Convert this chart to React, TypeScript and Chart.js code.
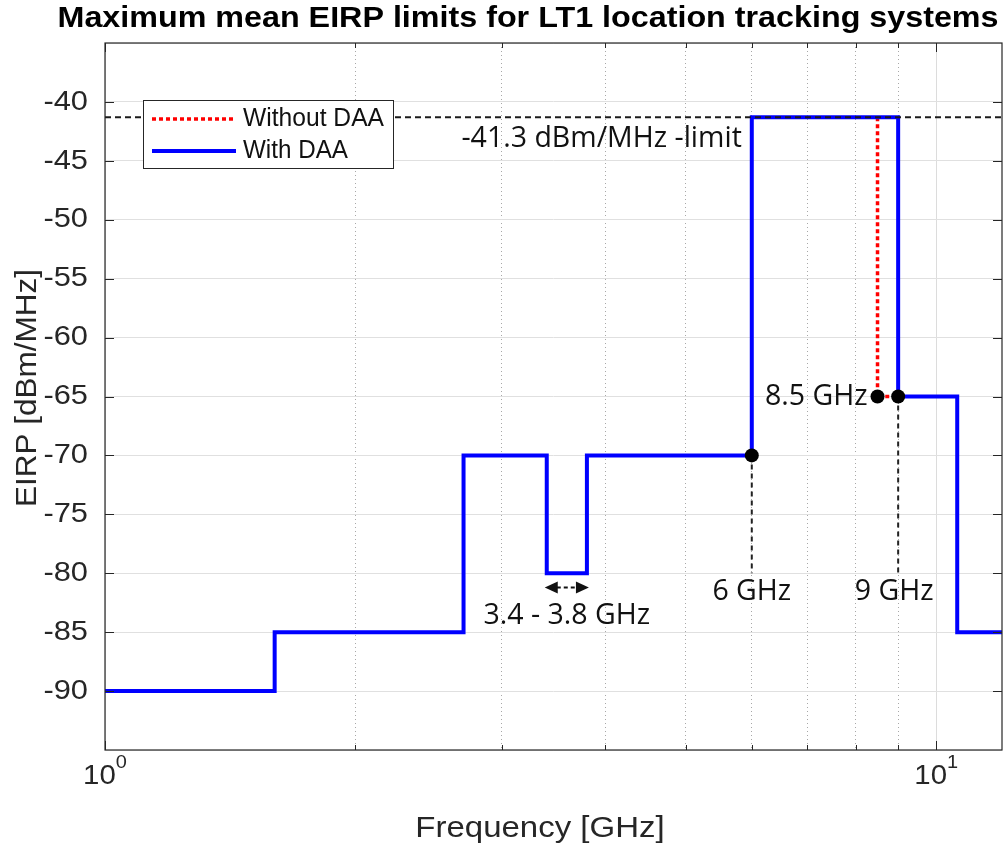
import React, { useEffect, useRef } from 'react';
import { Chart, registerables } from 'chart.js';

Chart.register(...registerables);

// ---- data ----
const freqWithDAA = [1, 1.6, 2.7, 3.4, 3.8, 6, 9, 10.6, 12];
const eirpWithDAA = [-90, -85, -70, -80, -70, -41.3, -65, -85, -85];
const freqWithoutDAA = [8.5, 8.5, 9];
const eirpWithoutDAA = [-41.3, -65, -65];
const limitFreq = [1, 12];
const limitEirp = [-41.3, -41.3];
const markerFreq = [6, 8.5, 9];
const markerEirp = [-70, -65, -65];
const guide6Freq = [6, 6];
const guide6Eirp = [-70, -80];
const guide9Freq = [9, 9];
const guide9Eirp = [-65, -80];
const bandEdges = [3.4, 3.8];
const bandArrowLevel = -81.2;
const yTickValues = [-90, -85, -80, -75, -70, -65, -60, -55, -50, -45, -40];
const xTickValues = [1, 2, 3, 4, 5, 6, 7, 8, 9, 10];
const xMajorValues = [1, 10];
const xMajorExponents = ['0', '1'];
const seriesNames = ['Without DAA', 'With DAA'];
const titleText = 'Maximum mean EIRP limits for LT1 location tracking systems';
const xTitle = 'Frequency [GHz]';
const yTitle = 'EIRP [dBm/MHz]';
const limitLabel = '-41.3 dBm/MHz -limit';
const label6 = '6 GHz';
const label85 = '8.5 GHz';
const label9 = '9 GHz';
const bandLabel = '3.4 - 3.8 GHz';

const zip = (xs: number[], ys: number[]) => xs.map((x, i) => ({ x, y: ys[i] }));

const HELV = '"Liberation Sans", Arial, sans-serif';
const CALI = '"Open Sans", "Noto Sans", sans-serif';
const AXIS_COLOR = '#262626';

function drawText(
  ctx: CanvasRenderingContext2D,
  s: string,
  x: number,
  y: number,
  font: string,
  align: CanvasTextAlign,
  color: string,
  sx = 1,
  targetWidth?: number
) {
  ctx.save();
  ctx.font = font;
  ctx.fillStyle = color;
  ctx.textBaseline = 'middle';
  let scaleX = sx;
  if (targetWidth) {
    const w = ctx.measureText(s).width;
    scaleX = targetWidth / w;
  }
  ctx.translate(x, y);
  ctx.scale(scaleX, 1);
  ctx.textAlign = align;
  ctx.fillText(s, 0, 0);
  ctx.restore();
}

const decorPlugin = {
  id: 'decor',
  afterDraw(chart: any) {
    const ctx: CanvasRenderingContext2D = chart.ctx;
    const xs = chart.scales.x;
    const ys = chart.scales.y;
    const { left, right, top, bottom } = chart.chartArea;

    // axes box
    ctx.save();
    ctx.strokeStyle = AXIS_COLOR;
    ctx.lineWidth = 1.2;
    ctx.strokeRect(left, top, right - left, bottom - top);

    // tick marks
    ctx.lineWidth = 1;
    ctx.beginPath();
    yTickValues.forEach((v) => {
      const py = Math.round(ys.getPixelForValue(v)) + 0.5;
      ctx.moveTo(left, py);
      ctx.lineTo(left + 9, py);
      ctx.moveTo(right, py);
      ctx.lineTo(right - 9, py);
    });
    xTickValues.forEach((v) => {
      const px = Math.round(xs.getPixelForValue(v)) + 0.5;
      const len = xMajorValues.includes(v) ? 9 : 5;
      ctx.moveTo(px, bottom);
      ctx.lineTo(px, bottom - len);
      ctx.moveTo(px, top);
      ctx.lineTo(px, top + len);
    });
    ctx.stroke();
    ctx.restore();

    // y tick labels
    yTickValues.forEach((v) => {
      drawText(ctx, String(v), left - 17, ys.getPixelForValue(v), `28px ${HELV}`, 'right', AXIS_COLOR, 1.1);
    });

    // x tick labels 10^n
    xMajorValues.forEach((v, i) => {
      const px = xs.getPixelForValue(v);
      ctx.save();
      ctx.font = `28px ${HELV}`;
      const wBase = ctx.measureText('10').width * 1.05;
      ctx.font = `19px ${HELV}`;
      const wExp = ctx.measureText(xMajorExponents[i]).width * 1.05;
      ctx.restore();
      const start = px - (wBase + wExp) / 2;
      drawText(ctx, '10', start, 776, `28px ${HELV}`, 'left', AXIS_COLOR, 1.05);
      drawText(ctx, xMajorExponents[i], start + wBase, 763, `19px ${HELV}`, 'left', AXIS_COLOR, 1.05);
    });

    // axis titles
    drawText(ctx, xTitle, 540, 829, `30px ${HELV}`, 'center', AXIS_COLOR, 1.1);
    ctx.save();
    ctx.translate(28, 388);
    ctx.rotate(-Math.PI / 2);
    drawText(ctx, yTitle, 0, 0, `30px ${HELV}`, 'center', AXIS_COLOR, 1.05);
    ctx.restore();

    // title
    drawText(ctx, titleText, 528, 19, `bold 30px ${HELV}`, 'center', '#000', 1, 941);

    // annotations
    const x6 = xs.getPixelForValue(6);
    const x85 = xs.getPixelForValue(8.5);
    const x9 = xs.getPixelForValue(9);
    const AF = `28.5px ${CALI}`;
    drawText(ctx, limitLabel, x6 - 10, ys.getPixelForValue(-41.3) + 22, AF, 'right', '#111');
    drawText(ctx, label85, x85 - 10, ys.getPixelForValue(-65), AF, 'right', '#111');
    drawText(ctx, label6, x6, 592, AF, 'center', '#111');
    drawText(ctx, label9, x9 - 4, 592, AF, 'center', '#111');
    const xa = xs.getPixelForValue(bandEdges[0]);
    const xb = xs.getPixelForValue(bandEdges[1]);
    drawText(ctx, bandLabel, (xa + xb) / 2, 616, AF, 'center', '#111');

    // double arrow
    const ay = ys.getPixelForValue(bandArrowLevel);
    ctx.save();
    ctx.strokeStyle = '#111';
    ctx.fillStyle = '#111';
    ctx.lineWidth = 2;
    ctx.setLineDash([4, 3]);
    ctx.beginPath();
    ctx.moveTo(xa + 10, ay);
    ctx.lineTo(xb - 10, ay);
    ctx.stroke();
    ctx.setLineDash([]);
    ctx.beginPath();
    ctx.moveTo(xa - 2, ay);
    ctx.lineTo(xa + 11, ay - 6);
    ctx.lineTo(xa + 11, ay + 6);
    ctx.closePath();
    ctx.fill();
    ctx.beginPath();
    ctx.moveTo(xb + 2, ay);
    ctx.lineTo(xb - 11, ay - 6);
    ctx.lineTo(xb - 11, ay + 6);
    ctx.closePath();
    ctx.fill();
    ctx.restore();

    // legend
    ctx.save();
    ctx.fillStyle = '#fff';
    ctx.fillRect(143, 100, 250, 68);
    ctx.strokeStyle = AXIS_COLOR;
    ctx.lineWidth = 1;
    ctx.strokeRect(143.5, 100.5, 250, 68);
    ctx.lineWidth = 3.5;
    ctx.strokeStyle = '#ff0000';
    ctx.setLineDash([4, 3]);
    ctx.beginPath();
    ctx.moveTo(152, 119);
    ctx.lineTo(236, 119);
    ctx.stroke();
    ctx.setLineDash([]);
    ctx.strokeStyle = '#0000ff';
    ctx.lineWidth = 4;
    ctx.beginPath();
    ctx.moveTo(152, 151);
    ctx.lineTo(236, 151);
    ctx.stroke();
    ctx.restore();
    drawText(ctx, seriesNames[0], 243, 119, `25px ${HELV}`, 'left', '#111', 1, 141);
    drawText(ctx, seriesNames[1], 243, 151, `25px ${HELV}`, 'left', '#111', 1, 105);
  },
};

export default function App() {
  const canvasRef = useRef<HTMLCanvasElement | null>(null);

  useEffect(() => {
    if (!canvasRef.current) return;
    const chart = new Chart(canvasRef.current, {
      type: 'line',
      data: {
        datasets: [
          {
            label: 'markers',
            data: zip(markerFreq, markerEirp),
            showLine: false,
            pointRadius: 7,
            pointBackgroundColor: '#000',
            pointBorderColor: '#000',
            pointBorderWidth: 0,
          },
          {
            label: 'limit',
            data: zip(limitFreq, limitEirp),
            borderColor: '#1a1a1a',
            borderWidth: 2.2,
            borderDash: [6, 4],
            pointRadius: 0,
          },
          {
            label: 'guide6',
            data: zip(guide6Freq, guide6Eirp),
            borderColor: '#222',
            borderWidth: 2,
            borderDash: [5, 4],
            pointRadius: 0,
          },
          {
            label: 'guide9',
            data: zip(guide9Freq, guide9Eirp),
            borderColor: '#222',
            borderWidth: 2,
            borderDash: [5, 4],
            pointRadius: 0,
          },
          {
            label: seriesNames[1],
            data: zip(freqWithDAA, eirpWithDAA),
            borderColor: '#0000ff',
            borderWidth: 4,
            stepped: 'before',
            pointRadius: 0,
          },
          {
            label: seriesNames[0],
            data: zip(freqWithoutDAA, eirpWithoutDAA),
            borderColor: '#ff0000',
            borderWidth: 3.5,
            borderDash: [4, 3],
            pointRadius: 0,
          },
        ],
      },
      options: {
        animation: false,
        responsive: false,
        devicePixelRatio: 1,
        layout: { padding: { left: 105, right: 1, top: 43, bottom: 99 } },
        plugins: { legend: { display: false }, tooltip: { enabled: false }, title: { display: false } },
        scales: {
          x: {
            type: 'logarithmic',
            min: 1,
            max: 12,
            afterBuildTicks: (scale: any) => {
              scale.ticks = xTickValues.map((v) => ({ value: v }));
            },
            afterFit: (scale: any) => {
              scale.height = 0;
            },
            ticks: { display: false },
            grid: {
              drawTicks: false,
              color: (c: any) => (c.tick && xMajorValues.includes(c.tick.value) ? '#dcdcdc' : '#a8a8a8'),
              lineWidth: 1,
            },
            border: {
              display: false,
              dash: (c: any) => (c.tick && xMajorValues.includes(c.tick.value) ? [] : [1, 3]),
            },
          },
          y: {
            type: 'linear',
            min: -95,
            max: -35,
            ticks: { display: false, stepSize: 5 },
            afterFit: (scale: any) => {
              scale.width = 0;
            },
            grid: { drawTicks: false, color: '#e0e0e0', lineWidth: 1 },
            border: { display: false },
          },
        },
      },
      plugins: [decorPlugin],
    } as any);
    return () => chart.destroy();
  }, []);

  return (
    <div style={{ position: 'fixed', left: 0, top: 0, width: 1003, height: 849, overflow: 'hidden', background: '#fff' }}>
      <canvas ref={canvasRef} width={1009} height={849} style={{ display: 'block' }} />
    </div>
  );
}
